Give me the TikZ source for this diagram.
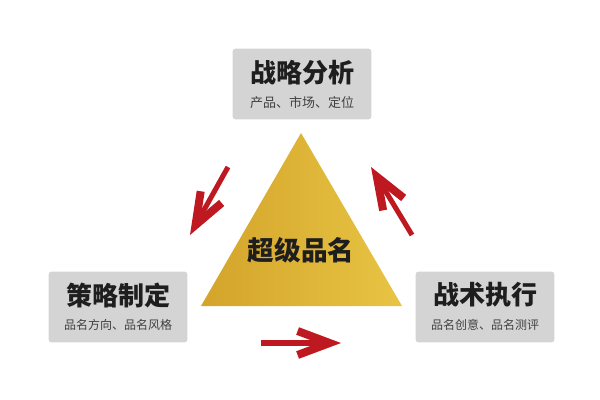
\documentclass[tikz,border=0pt]{standalone}
\usepackage{fontspec}
\setmainfont{Noto Sans CJK SC}
\usetikzlibrary{positioning,arrows.meta}
\definecolor{boxgray}{HTML}{D4D4D4}
\definecolor{arrred}{HTML}{BE1820}
\definecolor{golddark}{HTML}{D3A42A}
\definecolor{goldlight}{HTML}{E8C444}
\definecolor{ink}{HTML}{1E1E1E}

\begin{document}
\begin{tikzpicture}[x=0.75pt, y=-0.75pt,
    box/.style={fill=boxgray, rounded corners=2pt, minimum width=104pt, minimum height=53pt, inner sep=0pt},
    head/.style={text=ink, font=\bfseries\fontsize{19.5}{20}\selectfont, inner sep=0pt},
    sub/.style={text=ink!85, font=\fontsize{9}{10}\selectfont, inner sep=0pt},
    redarrow/.style={arrred, line width=3.8pt, -{Straight Barb[length=24pt, width=18pt, line width=6pt]}}]
    \useasboundingbox (0,0) rectangle (600,400);
    % the three boxes
    \node[box] (analysis) at (302,84) {};
    \node[box] (strategy) at (118,307) {};
    \node[box] (tactics)  at (485,307) {};
    \node[head] (analysisT) at (302,73) {战略分析};
    \node[sub, font=\fontsize{9.75}{10}\selectfont] (analysisS) at (302,103) {产品、市场、定位};
    \node[head] (strategyT) at (118,295) {策略制定};
    \node[sub] (strategyS) at (118,325) {品名方向、品名风格};
    \node[head] (tacticsT) at (485,295) {战术执行};
    \node[sub] (tacticsS) at (485,325) {品名创意、品名测评};
    % gold pyramid
    \coordinate (A) at (301,133);
    \coordinate (B) at (201,306);
    \coordinate (C) at (402,306);
    \shade[left color=golddark, right color=goldlight] (A) -- (B) -- (C) -- cycle;
    \node[head, font=\bfseries\fontsize{20}{21}\selectfont] (core) at (301,250) {超级品名};
    % cycle arrows
    \coordinate (a1) at (228,167); \coordinate (b1) at (190,235);
    \coordinate (a2) at (412,235); \coordinate (b2) at (371,167);
    \coordinate (a3) at (261,343); \coordinate (b3) at (341,343);
    \draw[redarrow] (a1) -- (b1);
    \draw[redarrow] (a2) -- (b2);
    \draw[redarrow] (a3) -- (b3);
\end{tikzpicture}
\end{document}
